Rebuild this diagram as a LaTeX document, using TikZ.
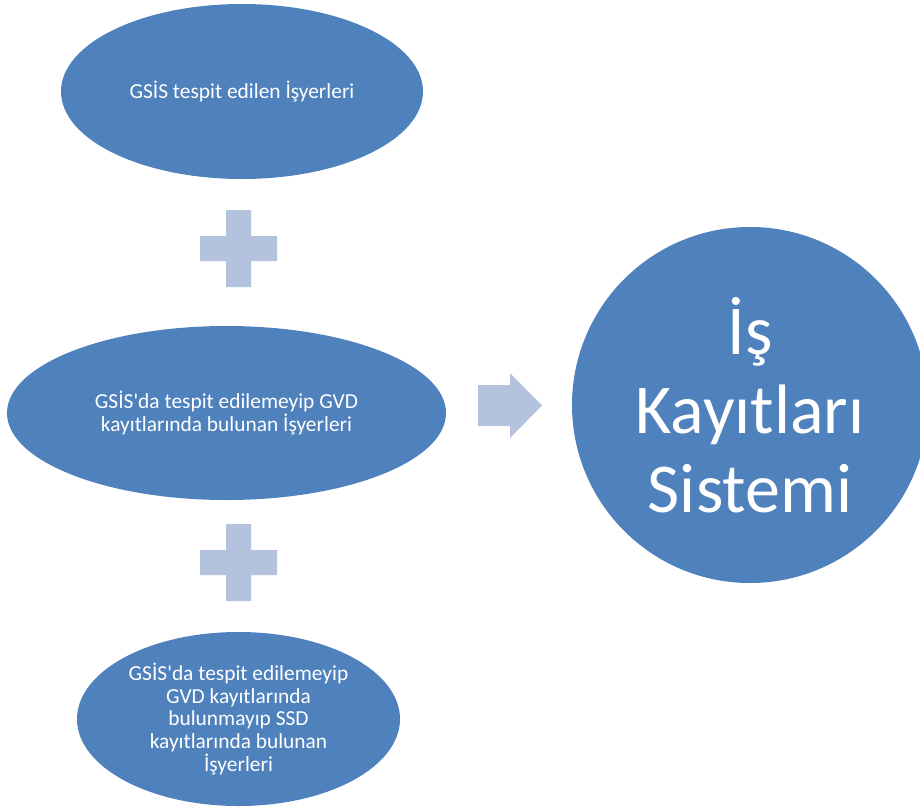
\documentclass[tikz,border=0pt]{standalone}
\usepackage{fontspec}
\setmainfont{Carlito}
\usetikzlibrary{shapes.geometric}
\definecolor{blobblue}{RGB}{79,129,189}
\definecolor{lightblue}{RGB}{179,194,221}
\tikzset{
  blob/.style={ellipse, fill=blobblue, draw=none, inner sep=0pt, text=white, align=center,
    font=\fontsize{21.4}{22.8}\selectfont},
  bigcircle/.style={circle, fill=blobblue, draw=none, inner sep=0pt, text=white, align=center,
    font=\fontsize{70}{79}\selectfont},
  plusshape/.style={fill=lightblue, draw=none},
}
\begin{document}
\begin{tikzpicture}[x=1pt,y=-1pt]
\useasboundingbox (0,0) rectangle (920,811);
\clip (0,0) rectangle (920,811);
\fill[white] (0,0) rectangle (920,811);
% ellipses
\node[blob, minimum width=362pt, minimum height=175pt] (e1) at (242,91.5) {GSİS tespit edilen İşyerleri};
\node[blob, minimum width=439pt, minimum height=174pt] (e2) at (226.5,413) {GSİS\textquotesingle da tespit edilemeyip GVD\\kayıtlarında bulunan İşyerleri};
\node[blob, minimum width=323pt, minimum height=174pt] (e3) at (238.5,719) {GSİS\textquotesingle da tespit edilemeyip\\GVD kayıtlarında\\bulunmayıp SSD\\kayıtlarında bulunan\\İşyerleri};
% big circle
\node[bigcircle, minimum size=356pt] (c) at (750,405) {};
\node[text=white, align=center, inner sep=0pt, font=\fontsize{70}{79}\selectfont] (ct) at (750,405) {İş\\Kayıtları\\Sistemi};
% plus signs
\fill[plusshape] (226,210) -- (251,210) -- (251,236) -- (277,236) -- (277,261) -- (251,261) -- (251,287) -- (226,287) -- (226,261) -- (200,261) -- (200,236) -- (226,236) -- cycle;
\fill[plusshape] (226,524) -- (251,524) -- (251,550) -- (277,550) -- (277,575) -- (251,575) -- (251,601) -- (226,601) -- (226,575) -- (200,575) -- (200,550) -- (226,550) -- cycle;
% arrow
\fill[plusshape] (478,385) -- (510,385) -- (510,373) -- (542,405.5) -- (510,438) -- (510,426) -- (478,426) -- cycle;
\end{tikzpicture}
\end{document}
